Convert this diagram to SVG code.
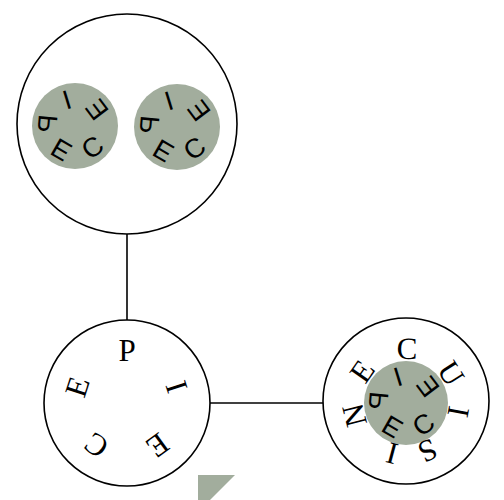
<svg xmlns="http://www.w3.org/2000/svg" width="504" height="500" viewBox="0 0 504 500">
<style>
.ring{fill:#fff;stroke:#000;stroke-width:1.6}
.disc{fill:#a2ad9d;stroke:none}
.g{font-family:"Liberation Sans","DejaVu Sans",sans-serif;font-size:27px;fill:#000;text-anchor:middle}
.s{font-family:"Liberation Serif","DejaVu Serif",serif;font-size:31px;fill:#000;text-anchor:middle}
.edge{stroke:#000;stroke-width:1.6;fill:none}
</style>
<rect width="504" height="500" fill="#fff"/>
<g id="connectors">
<line class="edge" x1="127" y1="234" x2="127" y2="320"/>
<line class="edge" x1="210" y1="403" x2="323" y2="403"/>
</g>
<g id="node-top">
<circle class="ring" cx="127" cy="124" r="110"/>
</g>
<g id="piece-1">
<circle class="disc" cx="75" cy="126" r="43"/>
<text class="g" x="0" y="9.7" transform="rotate(95 75 126) translate(75 154) scale(1 -1)">P</text>
<text class="g" x="0" y="9.7" transform="rotate(163 75 126) translate(75 154) scale(1 -1)">I</text>
<text class="g" x="0" y="9.7" transform="rotate(-127 75 126) translate(75 154) scale(1 -1)">E</text>
<text class="g" x="0" y="9.7" transform="rotate(-39 75 126) translate(75 154) scale(1 -1)">C</text>
<text class="g" x="0" y="9.7" transform="rotate(30 75 126) translate(75 154) scale(1 -1)">E</text>
</g>
<g id="piece-2">
<circle class="disc" cx="177" cy="127" r="43"/>
<text class="g" x="0" y="9.7" transform="rotate(95 177 127) translate(177 155) scale(1 -1)">P</text>
<text class="g" x="0" y="9.7" transform="rotate(163 177 127) translate(177 155) scale(1 -1)">I</text>
<text class="g" x="0" y="9.7" transform="rotate(-127 177 127) translate(177 155) scale(1 -1)">E</text>
<text class="g" x="0" y="9.7" transform="rotate(-39 177 127) translate(177 155) scale(1 -1)">C</text>
<text class="g" x="0" y="9.7" transform="rotate(30 177 127) translate(177 155) scale(1 -1)">E</text>
</g>
<g id="node-piece">
<circle class="ring" cx="127" cy="403" r="83"/>
<text class="s" x="127" y="361" transform="rotate(0 127 403)">P</text>
<text class="s" x="127" y="361" transform="rotate(72 127 403)">I</text>
<text class="s" x="127" y="361" transform="rotate(144 127 403)">E</text>
<text class="s" x="127" y="361" transform="rotate(216 127 403)">C</text>
<text class="s" x="127" y="361" transform="rotate(288 127 403)">E</text>
</g>
<g id="node-cuisine">
<circle class="ring" cx="406" cy="401" r="83"/>
<circle class="disc" cx="406" cy="403" r="42"/>
<text class="g" x="0" y="9.7" transform="rotate(95 406 403) translate(406 431) scale(1 -1)">P</text>
<text class="g" x="0" y="9.7" transform="rotate(163 406 403) translate(406 431) scale(1 -1)">I</text>
<text class="g" x="0" y="9.7" transform="rotate(-127 406 403) translate(406 431) scale(1 -1)">E</text>
<text class="g" x="0" y="9.7" transform="rotate(-39 406 403) translate(406 431) scale(1 -1)">C</text>
<text class="g" x="0" y="9.7" transform="rotate(30 406 403) translate(406 431) scale(1 -1)">E</text>
<text class="s" x="406" y="359" transform="rotate(1 406 402)">C</text>
<text class="s" x="406" y="359" transform="rotate(57.5 406 402)">U</text>
<text class="s" x="406" y="359" transform="rotate(100.5 406 402)">I</text>
<text class="s" x="406" y="359" transform="rotate(156 406 402)">S</text>
<text class="s" x="406" y="359" transform="rotate(195 406 402)">I</text>
<text class="s" x="406" y="359" transform="rotate(255.5 406 402)">N</text>
<text class="s" x="406" y="359" transform="rotate(305 406 402)">E</text>
</g>
<g id="marker">
<polygon points="198,475 235,475 198,512" fill="#a2ad9d"/>
</g>
</svg>
